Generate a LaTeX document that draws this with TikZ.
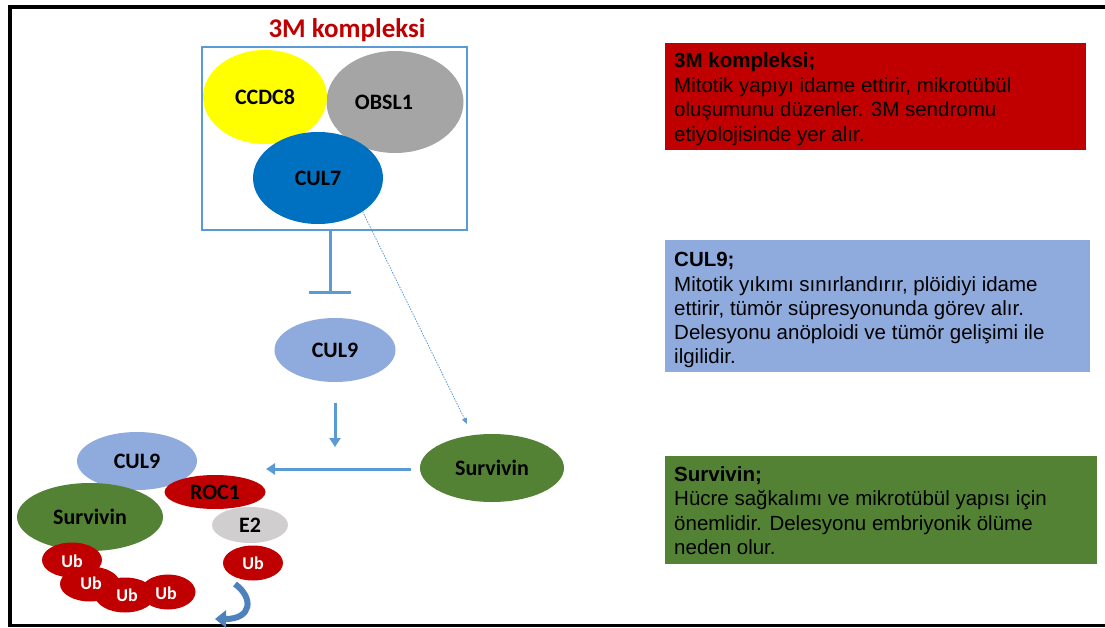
\documentclass[tikz,border=0pt]{standalone}
\usepackage{fontspec}
\setmainfont{Liberation Sans}
\newfontfamily\calfont{Carlito}
\usetikzlibrary{shapes.geometric,arrows.meta}
\definecolor{ttred}{HTML}{C00000}
\definecolor{boxblue}{HTML}{5B9BD5}
\definecolor{lblue}{HTML}{8FAADC}
\definecolor{dgreen}{HTML}{548235}
\definecolor{obgrey}{HTML}{A5A5A5}
\definecolor{culblue}{HTML}{0070C0}
\definecolor{egrey}{HTML}{D0CECE}
\definecolor{cyellow}{HTML}{FFFF00}
\definecolor{curvblue}{HTML}{4F81BD}
\tikzset{
  blob/.style={ellipse, inner sep=0pt, font=\calfont\bfseries\fontsize{22}{24}\selectfont},
  ub/.style={ellipse, inner sep=0pt, minimum width=60pt, minimum height=35pt, text=white, font=\calfont\bfseries\fontsize{18}{20}\selectfont},
  tl/.style={anchor=base west, inner sep=0pt, font=\fontsize{20.5}{24.5}\selectfont},
  infobox/.style={anchor=north west, inner sep=0pt, draw=none},
  conn/.style={draw=boxblue, line width=3pt},
  arr/.style={conn, -{Triangle[length=9pt,width=11pt]}},
  dotarr/.style={draw=boxblue, line width=0.8pt, dash pattern=on 1.5pt off 1.2pt, -{Triangle[length=6pt,width=5pt]}}
}
\begin{document}
\begin{tikzpicture}[x=1pt,y=-1pt]
\useasboundingbox (0,0) rectangle (1105,628);
\fill[white] (0,0) rectangle (1105,628);
% frame
\draw[line width=4pt] (1105,7) -- (9.5,7) -- (9.5,627);
\draw[line width=2.5pt] (9.5,625.5) -- (1105,625.5);

% title and complex
\node[anchor=base, inner sep=0pt, text=ttred, font=\calfont\bfseries\fontsize{27}{30}\selectfont] (title) at (347,38) {3M kompleksi};
\node[draw=boxblue, line width=2pt, minimum width=265pt, minimum height=183pt, inner sep=0pt] (cx) at (334.5,138.5) {};
\node[blob, fill=obgrey, minimum width=137pt, minimum height=102pt, label={[font=\calfont\bfseries\fontsize{22}{24}\selectfont, xshift=-11pt]center:OBSL1}] (obsl) at (395,102) {};
\node[blob, fill=cyellow, minimum width=124pt, minimum height=94pt] (ccdc) at (265,97) {CCDC8};
\node[blob, fill=culblue, minimum width=130pt, minimum height=92pt] (cul7) at (318,178) {CUL7};

% middle
\coordinate (inh) at (330,292);
\draw[conn] (cx.south -| inh) -- (inh);
\draw[conn] ([xshift=-21pt]inh) -- ([xshift=21pt]inh);
\node[blob, fill=lblue, minimum width=121pt, minimum height=64pt] (cul9) at (335,350) {CUL9};
\coordinate (d0) at (335,403);
\coordinate (d1) at (335,447);
\draw[arr] (d0) -- (d1);
\node[blob, fill=dgreen, minimum width=144pt, minimum height=68pt] (surv) at (492,468) {Survivin};
\coordinate (h0) at (411,469);
\coordinate (h1) at (266,469);
\draw[arr] (h0) -- (h1);
\coordinate (dend) at (467,424);
\draw[dotarr] (cul7.-37) -- (dend);

% bottom-left complex
\node[blob, fill=lblue, minimum width=120pt, minimum height=58pt] (bcul9) at (137,461) {CUL9};
\node[blob, fill=dgreen, minimum width=146pt, minimum height=68pt] (bsurv) at (90,517) {Survivin};
\node[blob, fill=ttred, minimum width=101pt, minimum height=34pt] (roc) at (215,492) {ROC1};
\node[blob, fill=egrey, minimum width=76pt, minimum height=36pt] (e2) at (250,525) {E2};
% ubiquitin fills first, labels on top
\fill[ttred] (253,563) ellipse (30 and 17.5);
\fill[ttred] (72,560) ellipse (30 and 17.5);
\fill[ttred] (90,584) ellipse (30 and 17.5);
\fill[ttred] (125,595) ellipse (30 and 17.5);
\fill[ttred] (168,592) ellipse (27.5 and 17.5);
\node[ub] (ub0) at (253,563) {Ub};
\node[ub] (ub1) at (72,561) {Ub};
\node[ub] (ub2) at (91,583) {Ub};
\node[ub] (ub3) at (127,595) {Ub};
\node[ub, minimum width=55pt] (ub4) at (166,593) {Ub};
\coordinate (c0) at (235,584);
\coordinate (c1) at (215,619);
\draw[draw=curvblue, line width=6pt, -{Triangle[length=11pt,width=17pt]}] (c0) .. controls (254,598) and (252,619) .. (c1);

% info boxes
\node[infobox, fill=ttred, minimum width=421pt, minimum height=107pt] (rbox) at (665,43) {};
\node[tl] (r0) at (674,68) {\bfseries 3M kompleksi;};
\node[tl] (r1) at (674,92.5) {Mitotik yapıyı idame ettirir, mikrotübül};
\node[tl] (r2) at (674,117) {oluşumunu düzenler. 3M sendromu};
\node[tl] (r3) at (674,141.5) {etiyolojisinde yer alır.};

\node[infobox, fill=lblue, minimum width=425pt, minimum height=132pt] (bbox) at (665,240) {};
\node[tl] (b0) at (674,267) {\bfseries CUL9;};
\node[tl] (b1) at (674,291) {Mitotik yıkımı sınırlandırır, plöidiyi idame};
\node[tl] (b2) at (674,315) {ettirir, tümör süpresyonunda görev alır.};
\node[tl] (b3) at (674,339) {Delesyonu anöploidi ve tümör gelişimi ile};
\node[tl] (b4) at (674,363) {ilgilidir.};

\node[infobox, fill=dgreen, minimum width=432pt, minimum height=108pt] (gbox) at (665,456) {};
\node[tl] (g0) at (674,481) {\bfseries Survivin;};
\node[tl] (g1) at (674,505.5) {Hücre sağkalımı ve mikrotübül yapısı için};
\node[tl] (g2) at (674,530) {önemlidir. Delesyonu embriyonik ölüme};
\node[tl] (g3) at (674,554.5) {neden olur.};
\end{tikzpicture}
\end{document}
